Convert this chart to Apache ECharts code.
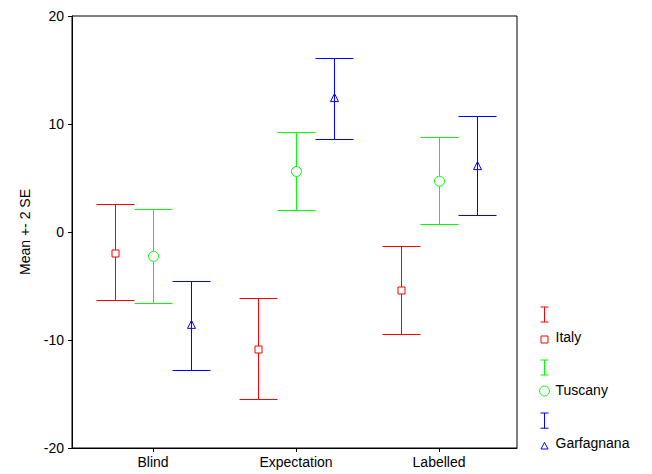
<!DOCTYPE html>
<html>
<head>
<meta charset="utf-8">
<script src="https://cdn.jsdelivr.net/npm/echarts@6/dist/echarts.min.js"></script>
<style>html,body{margin:0;padding:0;background:#fff;}#c{width:652px;height:474px;}</style>
</head>
<body>
<div id="c"></div>
<script>
const categories = ['Blind', 'Expectation', 'Labelled'];
const yTicks = [-20, -10, 0, 10, 20];

const italyMean = [-1.9, -10.8, -5.4];
const italyLow  = [-6.3, -15.5, -9.4];
const italyHigh = [2.6, -6.1, -1.3];

const tuscanyMean = [-2.25, 5.6, 4.7];
const tuscanyLow  = [-6.6, 2.0, 0.7];
const tuscanyHigh = [2.1, 9.3, 8.8];

const garfMean = [-8.6, 12.4, 6.1];
const garfLow  = [-12.8, 8.6, 1.6];
const garfHigh = [-4.5, 16.1, 10.7];

const seriesNames = ['Italy', 'Tuscany', 'Garfagnana'];
const colors = ['#ff0000', '#00ff00', '#0000ff'];

function rows(mean, low, high) {
  return categories.map((c, i) => [i + 1, mean[i], low[i], high[i]]);
}

function makeRender(offsetPx, color, marker) {
  return function (params, api) {
    const x = api.value(0);
    const pm = api.coord([x, api.value(1)]);
    const pl = api.coord([x, api.value(2)]);
    const ph = api.coord([x, api.value(3)]);
    const cx = Math.round(pm[0] + offsetPx) + 0.5;
    const yl = Math.round(pl[1]) + 0.5;
    const yh = Math.round(ph[1]) + 0.5;
    const cy = pm[1];
    const hw = 19;
    const d = 'M' + (cx - hw) + ' ' + yh + 'L' + (cx + hw) + ' ' + yh +
              'M' + cx + ' ' + yh + 'L' + cx + ' ' + yl +
              'M' + (cx - hw) + ' ' + yl + 'L' + (cx + hw) + ' ' + yl;
    const children = [
      { type: 'path', silent: true, shape: { pathData: d }, style: { stroke: color, lineWidth: 1, fill: null } }
    ];
    if (marker === 'square') {
      children.push({ type: 'rect', silent: true, shape: { x: cx - 3.5, y: Math.round(cy) - 3, width: 7, height: 7 },
        style: { stroke: color, fill: '#fff', lineWidth: 1 } });
    } else if (marker === 'circle') {
      children.push({ type: 'circle', silent: true, shape: { cx: cx, cy: cy, r: 5 },
        style: { stroke: color, fill: '#fff', lineWidth: 1 } });
    } else {
      children.push({ type: 'polygon', silent: true, shape: { points: [[cx, cy - 4.5], [cx - 4, cy + 3.5], [cx + 4, cy + 3.5]] },
        style: { stroke: color, fill: null, lineWidth: 1 } });
    }
    return { type: 'group', children: children };
  };
}

const icons = [
  'path://M1,0L9,0M5,0L5,15M1,15L9,15M1.5,29L8.5,29L8.5,36L1.5,36Z',
  'path://M1,0L9,0M5,0L5,15M1,15L9,15M10,31A5,5,0,1,1,0,31A5,5,0,1,1,10,31Z',
  'path://M1,0L9,0M5,0L5,15M1,15L9,15M5,29L1.5,35.5L8.5,35.5Z'
];

const chart = echarts.init(document.getElementById('c'), null, { renderer: 'svg' });
const fontFamily = 'Liberation Sans, Arial, sans-serif';

chart.setOption({
  animation: false,
  backgroundColor: '#fff',
  grid: { left: 72, right: 135, top: 16, bottom: 26, show: true, borderColor: '#000', borderWidth: 1, containLabel: false },
  xAxis: {
    type: 'value',
    min: 0.4336,
    max: 3.545,
    splitLine: { show: false },
    axisLine: { show: true, onZero: false, lineStyle: { color: '#000', width: 1 } },
    axisTick: { show: true, customValues: [1, 2, 3], length: 4, inside: false, lineStyle: { color: '#000' } },
    axisLabel: {
      customValues: [1, 2, 3],
      formatter: v => categories[Math.round(v) - 1],
      color: '#000', fontSize: 14, fontFamily: fontFamily, margin: 7
    }
  },
  yAxis: {
    type: 'value',
    min: -20,
    max: 20,
    interval: 10,
    name: 'Mean +- 2 SE',
    nameLocation: 'middle',
    nameGap: 40,
    nameTextStyle: { color: '#000', fontSize: 14, fontFamily: fontFamily },
    splitLine: { show: false },
    axisLine: { show: true, lineStyle: { color: '#000', width: 1 } },
    axisTick: { show: true, length: 4, lineStyle: { color: '#000' } },
    axisLabel: { color: '#000', fontSize: 14, fontFamily: fontFamily, margin: 8,
      formatter: v => String(v) }
  },
  legend: {
    orient: 'vertical',
    left: 534,
    top: 296,
    itemWidth: 10,
    itemHeight: 36,
    itemGap: 5,
    selectedMode: false,
    formatter: '\n{name}',
    textStyle: { color: '#000', fontSize: 14, fontFamily: fontFamily, lineHeight: 24, padding: [0, 0, 0, 1] },
    data: seriesNames.map((n, i) => ({
      name: n,
      icon: icons[i],
      itemStyle: { color: 'rgba(0,0,0,0)', borderColor: colors[i], borderWidth: 1 }
    }))
  },
  series: [
    { type: 'custom', name: seriesNames[0], color: colors[0], silent: true, renderItem: makeRender(-38, colors[0], 'square'), data: rows(italyMean, italyLow, italyHigh) },
    { type: 'custom', name: seriesNames[1], color: colors[1], silent: true, renderItem: makeRender(0, colors[1], 'circle'), data: rows(tuscanyMean, tuscanyLow, tuscanyHigh) },
    { type: 'custom', name: seriesNames[2], color: colors[2], silent: true, renderItem: makeRender(38, colors[2], 'triangle'), data: rows(garfMean, garfLow, garfHigh) }
  ]
});
</script>
</body>
</html>
